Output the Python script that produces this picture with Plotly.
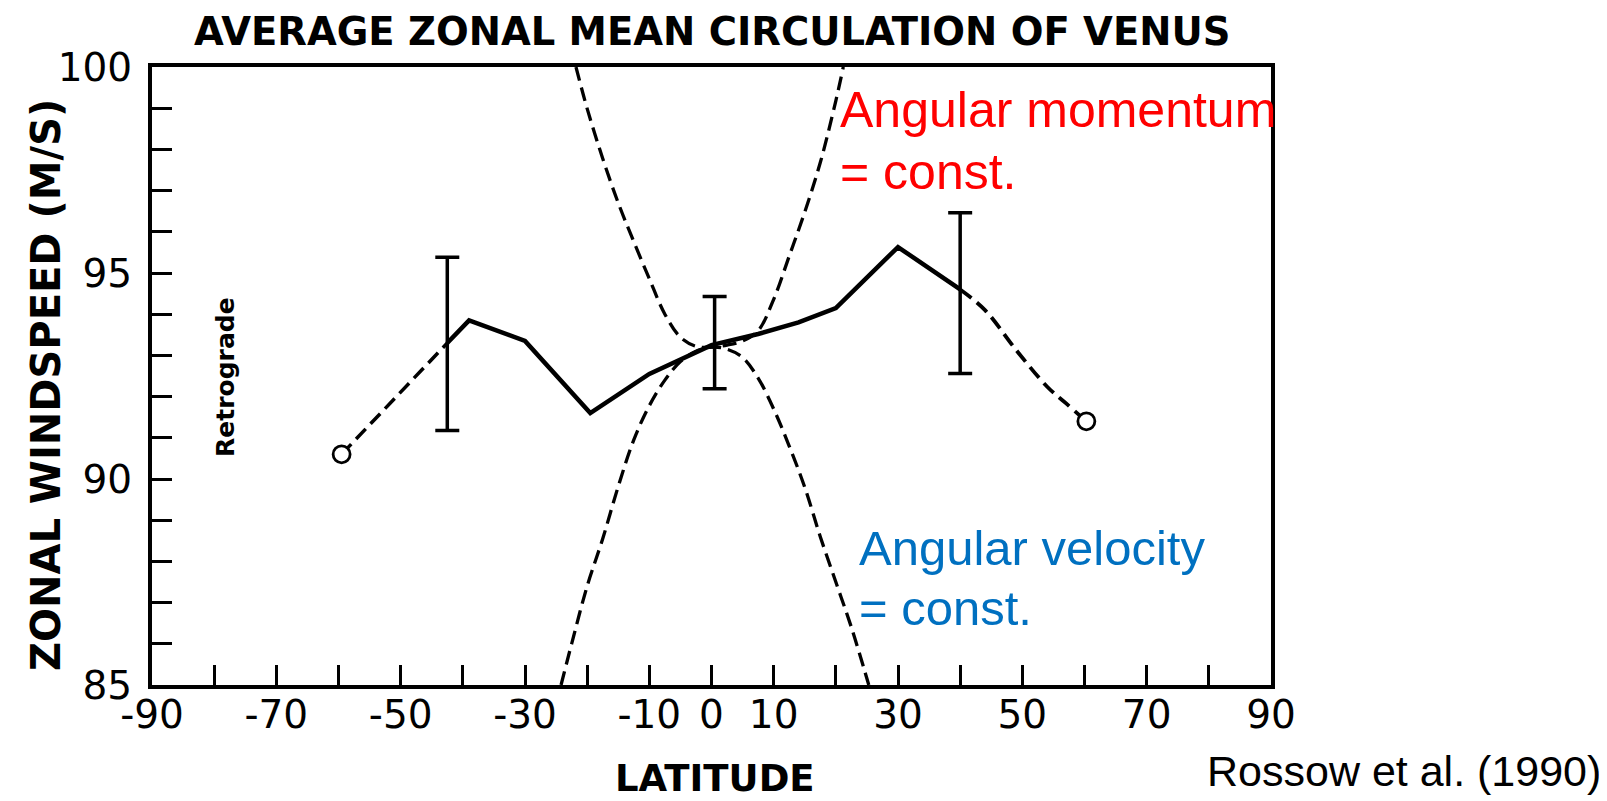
import plotly.graph_objects as go

# ---- data ----
solid_lat = [-42.5, -39, -30, -19.5, -10, 0, 7.5, 14, 20, 30, 40]
solid_u = [93.3, 93.85, 93.35, 91.6, 92.55, 93.25, 93.52, 93.8, 94.15, 95.63, 94.6]

left_dash_lat = [-59.5, -42.5]
left_dash_u = [90.6, 93.3]

right_dash_lat = [40, 44, 49, 54, 57, 60.3]
right_dash_u = [94.6, 94.1, 93.13, 92.24, 91.84, 91.4]

end_lat = [-59.5, 60.3]
end_u = [90.6, 91.4]

err_lat = [-42.5, 0.5, 40.0]
err_u = [93.28, 93.31, 94.51]
err_size = [2.1, 1.12, 1.95]

# angular momentum = const. curve
am_lat = [-21.8, -20, -17.5, -15, -12.5, -10, -7.5, -5, -2.5, 0, 2.5, 5, 7.5, 10, 12.5, 15, 17.5, 20, 21.2]
am_u = [100.0, 98.99, 97.78, 96.7, 95.76, 94.86, 94.0, 93.44, 93.22, 93.2, 93.25, 93.35, 93.6, 94.36, 95.41, 96.48, 97.68, 99.18, 100.0]

# angular velocity = const. curve
av_lat = [-24.2, -22.5, -20, -17.5, -15, -12.5, -10, -7.5, -5, -2.5, 0, 2.5, 5, 7.5, 10, 12.5, 15, 17.5, 20, 22.5, 25.3]
av_u = [85.0, 86.0, 87.4, 88.55, 89.82, 90.95, 91.78, 92.4, 92.85, 93.1, 93.2, 93.15, 92.95, 92.45, 91.7, 90.8, 89.8, 88.6, 87.5, 86.4, 85.0]

x_tickvals = [-90, -80, -70, -60, -50, -40, -30, -20, -10, 0, 10, 20, 30, 40, 50, 60, 70, 80, 90]
x_ticktext = ["-90", "", "-70", "", "-50", "", "-30", "", "-10", "0", "10", "", "30", "", "50", "", "70", "", "90"]
y_tickvals = list(range(85, 101))
y_ticktext = [str(v) if v % 5 == 0 else "" for v in y_tickvals]

# ---- layout geometry (window pixels; page body has an 8px margin) ----
OFF = 8
WIN_W, WIN_H = 1607, 801
W, H = WIN_W - OFF, WIN_H - OFF
X0, X1, Y0, Y1 = 152, 1271, 67, 685          # plot area in window pixels
L, T = X0 - OFF, Y0 - OFF
R, B = W - (X1 - OFF), H - (Y1 - OFF)
pw, ph = X1 - X0, Y1 - Y0

def px(xp):
    return (xp - X0) / pw

def py(yp):
    return (Y1 - yp) / ph

dash = "14px,7px"
black = "black"

fig = go.Figure()
fig.add_trace(go.Scatter(x=am_lat, y=am_u, mode="lines", line=dict(color=black, width=3.3, dash=dash, shape="spline"), hoverinfo="skip"))
fig.add_trace(go.Scatter(x=av_lat, y=av_u, mode="lines", line=dict(color=black, width=3.3, dash=dash, shape="spline"), hoverinfo="skip"))
fig.add_trace(go.Scatter(x=left_dash_lat, y=left_dash_u, mode="lines", line=dict(color=black, width=3.5, dash=dash)))
fig.add_trace(go.Scatter(x=right_dash_lat, y=right_dash_u, mode="lines", line=dict(color=black, width=3.8, dash=dash, shape="spline")))
fig.add_trace(go.Scatter(x=solid_lat, y=solid_u, mode="lines", line=dict(color=black, width=4.5)))
fig.add_trace(go.Scatter(x=err_lat, y=err_u, mode="markers", marker=dict(size=1, color="rgba(0,0,0,0)"),
                         error_y=dict(type="data", array=err_size, visible=True, color=black, thickness=3.5, width=12)))
fig.add_trace(go.Scatter(x=end_lat, y=end_u, mode="markers",
                         marker=dict(symbol="circle", size=17, color="white", line=dict(width=2.8, color=black))))

axis_font = dict(family="DejaVu Sans", size=39, color=black)
fig.update_xaxes(range=[-90, 90], showgrid=False, zeroline=False, showline=True, linecolor=black, linewidth=4,
                 mirror=True, ticks="inside", ticklen=20, tickwidth=3, tickcolor=black,
                 tickvals=x_tickvals, ticktext=x_ticktext, tickfont=axis_font, ticklabelstandoff=-8)
fig.update_yaxes(range=[85, 100], showgrid=False, zeroline=False, showline=True, linecolor=black, linewidth=4,
                 mirror=True, ticks="inside", ticklen=20, tickwidth=3, tickcolor=black,
                 tickvals=y_tickvals, ticktext=y_ticktext, tickfont=axis_font, ticklabelstandoff=8)

ann = []
bold = "DejaVu Sans"
sans = "Liberation Sans"

def add(text, xa, ya, size, color=black, family=sans, xanchor="left", angle=0):
    ann.append(dict(text=text, x=px(xa), y=py(ya), xref="paper", yref="paper", textangle=angle,
                    xanchor=xanchor, yanchor="middle", showarrow=False,
                    font=dict(family=family, size=size, color=color)))

add("<b>AVERAGE ZONAL MEAN CIRCULATION OF VENUS</b>", (X0 + X1) / 2, 31, 38.5, family=bold, xanchor="center")
add("<b>ZONAL WINDSPEED (M/S)</b>", 46, 385, 40, family=bold, xanchor="center", angle=-90)
add("<b>LATITUDE</b>", 715, 778, 37, family=bold, xanchor="center")
add("<b>Retrograde</b>", 226, 377, 25, family=bold, xanchor="center", angle=-90)
add("Angular momentum", 838, 110, 50, color="#FF0000")
add("= const.", 838, 172, 50, color="#FF0000")
add("Angular velocity", 857, 548, 49, color="#0070C0")
add("= const.", 857, 608, 49, color="#0070C0")
add("Rossow et al. (1990)", 1603, 771, 43, xanchor="right")

fig.update_layout(width=W, height=H, margin=dict(l=L, r=R, t=T, b=B, autoexpand=False),
                  paper_bgcolor="white", plot_bgcolor="white", showlegend=False, annotations=ann)

fig.write_html("out.html")
